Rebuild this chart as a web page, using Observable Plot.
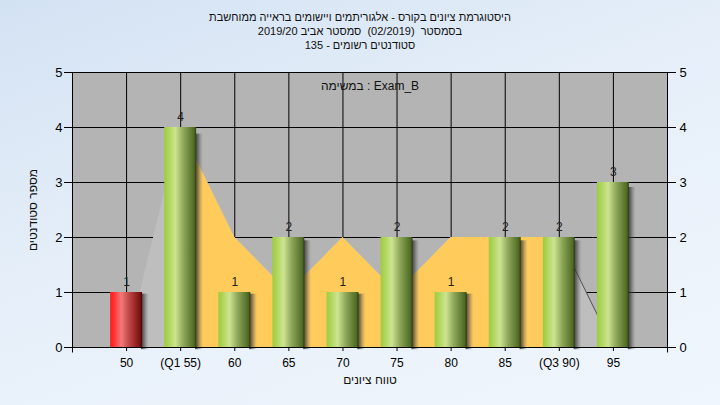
<!DOCTYPE html>
<html>
<head>
<meta charset="utf-8">
<script src="https://cdn.jsdelivr.net/npm/d3@7"></script>
<script src="https://cdn.jsdelivr.net/npm/@observablehq/plot@0.6"></script>
<style>
  html, body { margin: 0; padding: 0; }
  #wrap {
    position: relative; width: 720px; height: 405px; overflow: hidden;
    background: linear-gradient(160deg, #d3e2f3 0%, #e6eff9 45%, #f0f6fd 100%);
    font-family: "Liberation Sans", Arial, sans-serif;
  }
  #title {
    position: absolute; top: 10px; left: 0; width: 720px; text-align: center;
    direction: rtl; font-size: 11px; line-height: 14px; color: #111;
  }
  #chart { position: absolute; top: 0; left: 0; }
</style>
</head>
<body>
<div id="wrap">
  <div id="chart"></div>
  <div id="title">
    <div>היסטוגרמת ציונים בקורס - אלגוריתמים ויישומים בראייה ממוחשבת</div>
    <div>בסמסטר &nbsp;(02/2019)&nbsp; סמסטר אביב 2019/20</div>
    <div>סטודנטים רשומים - 135</div>
  </div>
</div>
<script>
// ---- data ----
const categories = ["50", "(Q1 55)", "60", "65", "70", "75", "80", "85", "(Q3 90)", "95"];
const counts     = [1, 4, 1, 2, 1, 2, 1, 2, 2, 3];
const curve      = [0, 4, 2, 1, 2, 1, 2, 2, 2, 0];
const failing    = ["50"];
const q1Label = "(Q1 55)", q3Label = "(Q3 90)";
const yTicks = [0, 1, 2, 3, 4, 5];
const subtitle = "\u200Eבמשימה : Exam_B";
const xLabel = "טווח ציונים";
const yLabel = "מספר סטודנטים";

const rows = categories.map((c, i) => ({i: i + 1, cat: c, count: counts[i], curve: curve[i], fail: failing.includes(c)}));
const idx = rows.map(d => d.i);
const q1 = categories.indexOf(q1Label) + 1, q3 = categories.indexOf(q3Label) + 1;
const hw = 0.295;

const svg = Plot.plot({
  width: 720, height: 405,
  marginTop: 72, marginBottom: 58, marginLeft: 72, marginRight: 53,
  x: {domain: [0, categories.length + 1], axis: null},
  y: {domain: [0, 5], axis: null},
  style: {background: "transparent", fontFamily: "Liberation Sans, Arial, sans-serif", fontSize: "12px", color: "#000", overflow: "visible"},
  marks: [
    Plot.frame({fill: "#b4b4b4", stroke: null}),
    Plot.gridY(yTicks, {stroke: "#000", strokeOpacity: 1}),
    Plot.gridX(idx, {stroke: "#000", strokeOpacity: 1}),
    Plot.areaY(rows, {x: "i", y: "curve", fill: "#bebebe"}),
    Plot.areaY(rows.filter(d => d.i >= q1 && d.i <= q3), {x: "i", y: "curve", fill: "#ffcc5c"}),
    Plot.line(rows.filter(d => d.i >= q3), {x: "i", y: "curve", stroke: "#505050", strokeWidth: 1}),
    // shadows
    Plot.rectY(rows, {x1: d => d.i + hw - 0.02, x2: d => d.i + hw + 0.13, y1: -0.04, y2: d => d.count * 0.97, fill: "url(#shadowGrad)"}),
    // bars
    Plot.rectY(rows, {x1: d => d.i - hw, x2: d => d.i + hw, y1: 0, y2: "count",
      fill: d => d.fail ? "url(#redGrad)" : "url(#greenGrad)"}),
    Plot.text(rows, {x: "i", y: "count", text: d => String(d.count), dy: -10, fill: "#222", fontSize: 12}),
    Plot.ruleY([0], {stroke: "#000"}),
    Plot.ruleX([0, categories.length + 1], {stroke: "#000", y1: -0.1, y2: 5}),
    Plot.axisY(yTicks, {anchor: "left", tickSize: 8, tickPadding: 2, fontSize: 13, label: null, tickFormat: d => String(d)}),
    Plot.axisY(yTicks, {anchor: "right", tickSize: 8, tickPadding: 4, fontSize: 13, label: null, tickFormat: d => String(d)}),
    Plot.axisX(idx, {anchor: "bottom", tickSize: 4, tickPadding: 7, tickFormat: i => categories[i - 1], fontSize: 12, label: null}),
    Plot.text([subtitle], {frameAnchor: "top", lineAnchor: "middle", textAnchor: "middle", dy: 14, fontSize: 12, fill: "#111"}),
    Plot.text([xLabel], {frameAnchor: "bottom", lineAnchor: "middle", textAnchor: "middle", dy: 33, fontSize: 12, fill: "#111"}),
    Plot.text([yLabel], {frameAnchor: "left", lineAnchor: "middle", textAnchor: "middle", dx: -39, rotate: -90, fontSize: 12, fill: "#111"})
  ]
});

// gradients
const ns = "http://www.w3.org/2000/svg";
const defs = document.createElementNS(ns, "defs");
function grad(id, stops) {
  const g = document.createElementNS(ns, "linearGradient");
  g.setAttribute("id", id);
  g.setAttribute("x1", "0"); g.setAttribute("x2", "1"); g.setAttribute("y1", "0"); g.setAttribute("y2", "0");
  for (const [o, c, op] of stops) {
    const s = document.createElementNS(ns, "stop");
    s.setAttribute("offset", o); s.setAttribute("stop-color", c);
    if (op != null) s.setAttribute("stop-opacity", op);
    g.appendChild(s);
  }
  defs.appendChild(g);
}
grad("redGrad", [[0, "#ff1a1a"], [0.12, "#ff3030"], [0.35, "#f27a7a"], [0.6, "#c04545"], [0.94, "#7a1010"], [1, "#3a0808"]]);
grad("greenGrad", [[0, "#9fcb3e"], [0.12, "#acd456"], [0.35, "#cde491"], [0.6, "#8ea75a"], [0.94, "#4e6a22"], [1, "#2c3a14"]]);
grad("shadowGrad", [[0, "#1e1e1e", 0.85], [0.4, "#3a3a3a", 0.55], [1, "#808080", 0]]);
svg.insertBefore(defs, svg.firstChild);

document.getElementById("chart").appendChild(svg);
</script>
</body>
</html>
